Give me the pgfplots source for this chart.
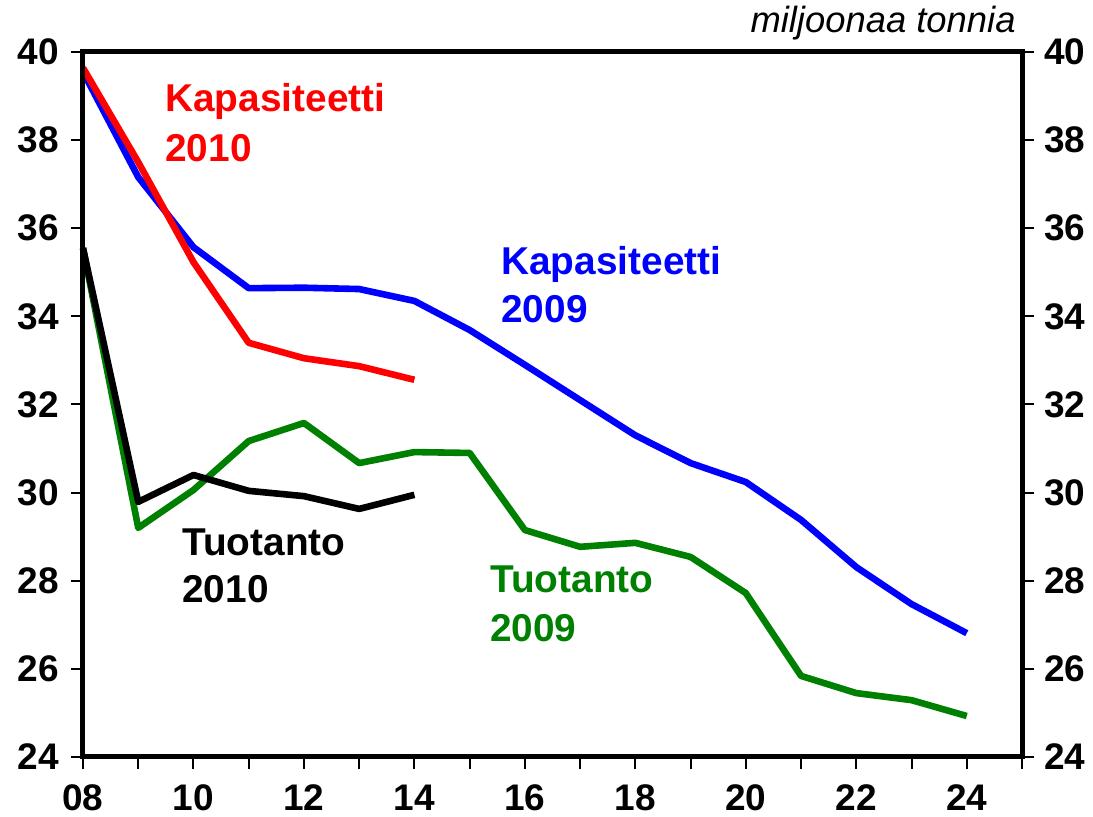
\documentclass[border=0pt]{standalone}
\usepackage{fontspec}
\setmainfont{Liberation Sans}
\usepackage{pgfplots}
\pgfplotsset{compat=1.18}
\definecolor{cblue}{RGB}{0,0,255}
\definecolor{cred}{RGB}{255,0,0}
\definecolor{cgreen}{RGB}{0,128,0}
\tikzset{lbl/.style={anchor=base west, inner sep=0pt, font=\fontsize{19.4}{20}\selectfont\bfseries}}
\begin{document}
\begin{tikzpicture}
\pgfplotsset{
 base/.style={
  width=469.5pt, height=352.5pt, scale only axis, at={(0,0)}, anchor=south west,
  xmin=8, xmax=25, ymin=24, ymax=40,
  ytick={24,26,...,40},
  axis line style={line width=2.5pt},
  tick align=outside, major tick length=6pt,
  every tick/.style={black, line width=1pt},
  tick label style={font=\fontsize{18.5}{20}\selectfont\bfseries},
  /pgf/number format/assume math mode=true,
  clip=false,
 },
}
\begin{axis}[base,
  xtick={8,...,25},
  xticklabels={08,,10,,12,,14,,16,,18,,20,,22,,24,},
  xticklabel style={yshift=-4.5pt},
  yticklabel style={xshift=-2.5pt},
  xtick pos=bottom, ytick pos=left, yticklabel pos=left]
% Kapasiteetti 2009
\addplot[cblue, line width=3.3pt, line join=round] coordinates {
(8,39.55) (9,37.16) (10,35.57) (11,34.64) (12,34.65) (13,34.62) (14,34.35)
(15,33.69) (16,32.90) (17,32.10) (18,31.30) (19,30.67) (20,30.24) (21,29.38)
(22,28.31) (23,27.47) (24,26.81)};
% Kapasiteetti 2010
\addplot[cred, line width=3.3pt, line join=round] coordinates {
(8,39.64) (9,37.50) (10,35.23) (11,33.40) (12,33.05) (13,32.87) (14,32.56)};
% Tuotanto 2009
\addplot[cgreen, line width=3.3pt, line join=round] coordinates {
(8,35.55) (9,29.20) (10,30.06) (11,31.17) (12,31.58) (13,30.67) (14,30.92)
(15,30.90) (16,29.15) (17,28.77) (18,28.86) (19,28.54) (20,27.72) (21,25.84)
(22,25.45) (23,25.29) (24,24.93)};
% Tuotanto 2010
\addplot[black, line width=3.3pt, line join=round] coordinates {
(8,35.55) (9,29.79) (10,30.40) (11,30.04) (12,29.92) (13,29.63) (14,29.95)};
\node[lbl, text=cred] at (axis cs:9.484,38.638) {Kapasiteetti};
\node[lbl, text=cred] at (axis cs:9.484,37.504) {2010};
\node[lbl, text=cblue] at (axis cs:15.566,34.939) {Kapasiteetti};
\node[lbl, text=cblue] at (axis cs:15.566,33.872) {2009};
\node[lbl, text=black] at (axis cs:9.792,28.584) {Tuotanto};
\node[lbl, text=black] at (axis cs:9.792,27.495) {2010};
\node[lbl, text=cgreen] at (axis cs:15.366,27.722) {Tuotanto};
\node[lbl, text=cgreen] at (axis cs:15.366,26.610) {2009};
\node[anchor=base east, inner sep=0pt, xshift=-3pt, yshift=9.5pt,
  font=\fontsize{18.2}{20}\selectfont\itshape] at (rel axis cs:1,1) {miljoonaa tonnia};
\end{axis}
\begin{axis}[base, hide x axis, ytick pos=right, yticklabel pos=right,
  yticklabel style={xshift=1.5pt}]
\end{axis}
\pgfresetboundingbox
\path[use as bounding box] (-41.5pt,-30pt) rectangle (505pt,378.5pt);
\end{tikzpicture}
\end{document}
